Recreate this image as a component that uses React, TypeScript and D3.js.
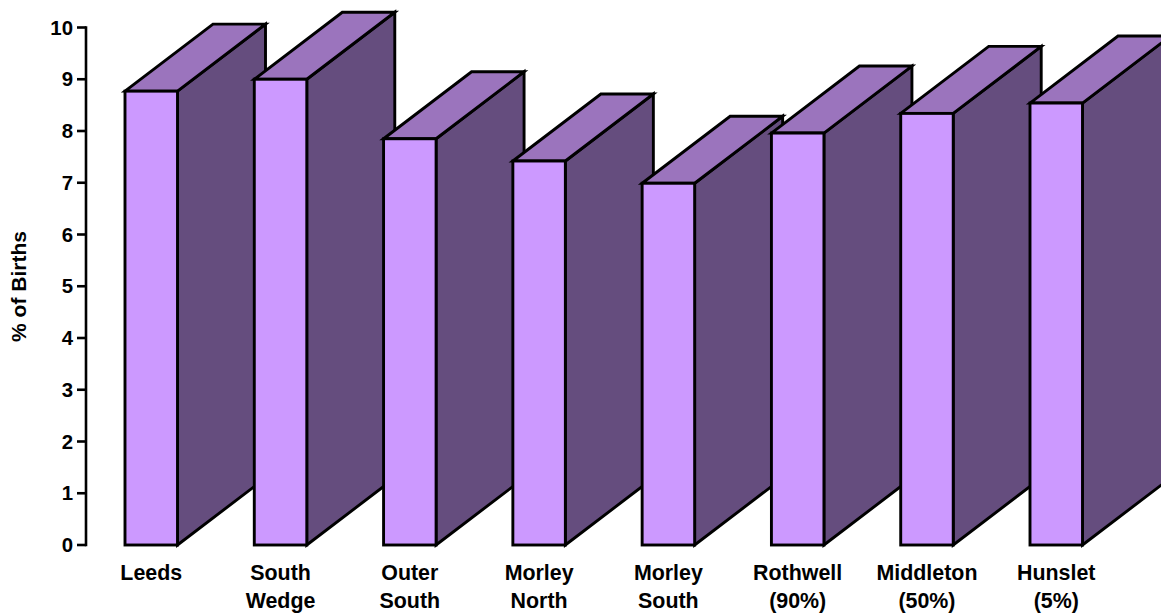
import React from "react";
import * as d3 from "d3";

// Share of births per area, drawn as extruded columns.
const areas: string[][] = [
  ["Leeds"],
  ["South", "Wedge"],
  ["Outer", "South"],
  ["Morley", "North"],
  ["Morley", "South"],
  ["Rothwell", "(90%)"],
  ["Middleton", "(50%)"],
  ["Hunslet", "(5%)"],
];
const births = [8.77, 9.0, 7.85, 7.42, 6.99, 7.96, 8.34, 8.54];
const yTicks = [0, 1, 2, 3, 4, 5, 6, 7, 8, 9, 10];

const WIDTH = 1161;
const HEIGHT = 613;
const AXIS_X = 86;
const DEPTH_X = 88;
const DEPTH_Y = 67;
const BAR_W = 52.5;
const FONT = "'Liberation Sans', Arial, sans-serif";

const y = d3.scaleLinear().domain([0, 10]).range([545, 27.5]);
const x = d3
  .scaleLinear()
  .domain([0, areas.length - 1])
  .range([125, 1030]);

const poly = (pts: [number, number][]) => {
  const p = d3.path();
  pts.forEach(([a, b], i) => (i ? p.lineTo(a, b) : p.moveTo(a, b)));
  p.closePath();
  return p.toString();
};

function Column({ index, value }: { index: number; value: number }) {
  const l = x(index);
  const r = l + BAR_W;
  const t = y(value);
  const b = y(0);
  const stroke = { stroke: "#000", strokeWidth: 2.9, strokeLinejoin: "miter" as const };
  return (
    <g>
      <path
        d={poly([[r, t], [r + DEPTH_X, t - DEPTH_Y], [r + DEPTH_X, b - DEPTH_Y], [r, b]])}
        fill="#654d7e"
        {...stroke}
      />
      <path
        d={poly([[l, t], [l + DEPTH_X, t - DEPTH_Y], [r + DEPTH_X, t - DEPTH_Y], [r, t]])}
        fill="#9b74bd"
        {...stroke}
      />
      <rect x={l} y={t} width={BAR_W} height={b - t} fill="#cc99ff" {...stroke} />
    </g>
  );
}

export default function App() {
  return (
    <svg
      width={WIDTH}
      height={HEIGHT}
      viewBox={`0 0 ${WIDTH} ${HEIGHT}`}
      style={{ position: "absolute", left: 0, top: 0, background: "#fff" }}
      fontFamily={FONT}
      fontWeight="bold"
      fill="#000"
    >
      <path
        d={`M${AXIS_X},${y(10) - 1.2}V${y(0) + 1.2}`}
        stroke="#000"
        strokeWidth={2.6}
        fill="none"
      />
      {yTicks.map((t) => (
        <g key={t}>
          <line x1={77} x2={AXIS_X} y1={y(t)} y2={y(t)} stroke="#000" strokeWidth={2.6} />
          <text x={73} y={y(t) + 7} textAnchor="end" fontSize={20.4}>
            {t}
          </text>
        </g>
      ))}
      <text
        transform={`translate(26,286.5) rotate(-90)`}
        textAnchor="middle"
        fontSize={21}
      >
        % of Births
      </text>
      {births.map((v, i) => (
        <Column key={i} index={i} value={v} />
      ))}
      {areas.map((lines, i) => (
        <text key={i} textAnchor="middle" fontSize={21.4}>
          {lines.map((s, j) => (
            <tspan key={j} x={x(i) + BAR_W / 2} y={579.5 + j * 28}>
              {s}
            </tspan>
          ))}
        </text>
      ))}
    </svg>
  );
}
